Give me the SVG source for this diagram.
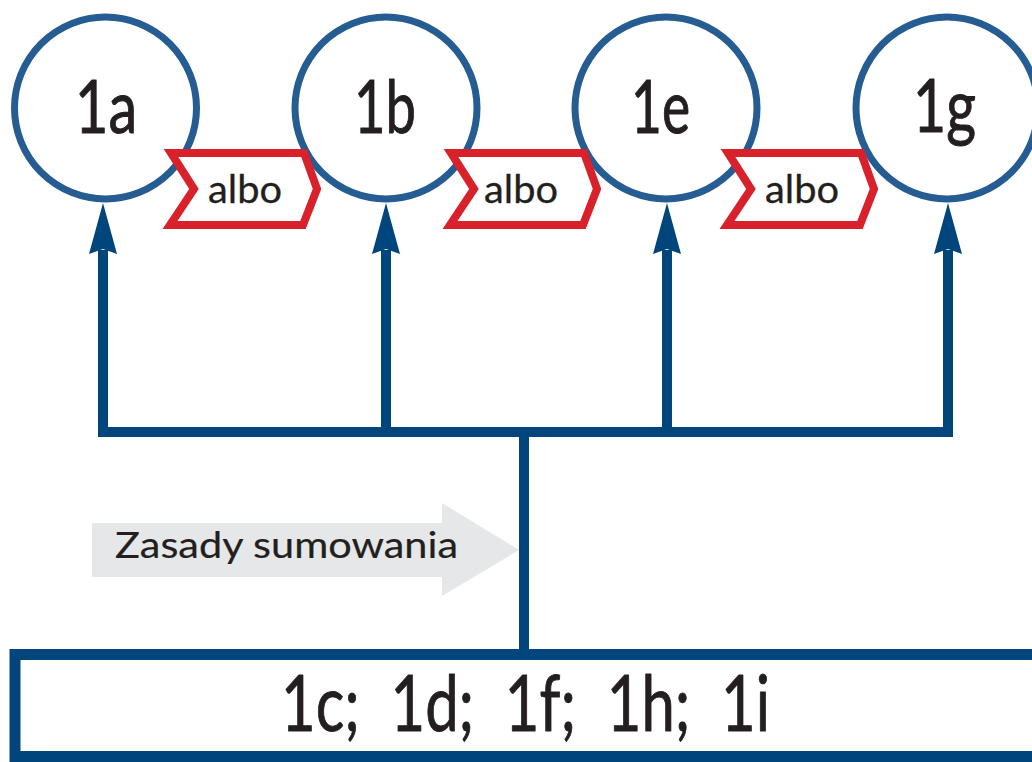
<svg xmlns="http://www.w3.org/2000/svg" xmlns:xlink="http://www.w3.org/1999/xlink" width="1032" height="762" viewBox="0 0 1032 762">
  <style>
    .circle { fill: #ffffff; stroke: #255c92; stroke-width: 7; }
    .label { font-family: Lato, "Liberation Sans", sans-serif; fill: #231f20; text-anchor: middle; stroke: #231f20; stroke-linejoin: round; }
    .big { font-size: 74px; stroke-width: 1; }
    .albo { font-size: 38px; stroke-width: 0.3; }
    .hint-text { font-size: 36px; stroke-width: 0.2; }
    .sum-text { font-size: 78px; stroke-width: 0.9; }
    .chev { fill: #ffffff; stroke: #d9212b; stroke-width: 8; stroke-linejoin: miter; }
    .wire { fill: none; stroke: #01457d; stroke-width: 10; stroke-linejoin: miter; stroke-linecap: butt; }
    .head { fill: #01457d; }
  </style>
  <defs>
    <!-- upward arrowhead, tip at origin -->
    <path id="arrowUp" d="M0 0 L14 51 L0 46 L-14 51 Z"/>
    <!-- "albo" ribbon outline, origin at its outer top-left corner -->
    <path id="ribbon" d="M4 4 H137 L150 40 L136 76 H3 L27 40 Z"/>
  </defs>

  <rect width="1032" height="762" fill="#ffffff"/>

  <!-- hint arrow -->
  <g id="hint">
    <path d="M92 523 H442 V503 L519 550 L442 596 V577 H92 Z" fill="#e6e7e8"/>
    <text class="label hint-text" x="286.5" y="558" textLength="343" lengthAdjust="spacingAndGlyphs">Zasady sumowania</text>
  </g>

  <!-- connectors -->
  <g id="connectors">
    <path class="wire" d="M103 250 V432 H948 V250"/>
    <path class="wire" d="M386 250 V432"/>
    <path class="wire" d="M667 250 V432"/>
    <path class="wire" d="M524 432 V650"/>
    <use xlink:href="#arrowUp" class="head" x="103" y="203"/>
    <use xlink:href="#arrowUp" class="head" x="386" y="203"/>
    <use xlink:href="#arrowUp" class="head" x="667" y="203"/>
    <use xlink:href="#arrowUp" class="head" x="948" y="203"/>
  </g>

  <!-- nodes -->
  <g id="node-1a">
    <circle class="circle" cx="105.5" cy="108" r="91"/>
    <text class="label big" x="106" y="133" textLength="62" lengthAdjust="spacingAndGlyphs">1a</text>
  </g>
  <g id="node-1b">
    <circle class="circle" cx="386" cy="108" r="91"/>
    <text class="label big" x="385" y="133" textLength="62" lengthAdjust="spacingAndGlyphs">1b</text>
  </g>
  <g id="node-1e">
    <circle class="circle" cx="666" cy="108" r="91"/>
    <text class="label big" x="660.5" y="133" textLength="59" lengthAdjust="spacingAndGlyphs">1e</text>
  </g>
  <g id="node-1g">
    <circle class="circle" cx="947" cy="108" r="91"/>
    <text class="label big" x="944.5" y="132" textLength="63" lengthAdjust="spacingAndGlyphs">1g</text>
  </g>

  <!-- "albo" ribbons between the circles -->
  <g id="or-1">
    <use xlink:href="#ribbon" class="chev" x="167" y="149"/>
    <text class="label albo" x="245" y="203" textLength="74" lengthAdjust="spacingAndGlyphs">albo</text>
  </g>
  <g id="or-2">
    <use xlink:href="#ribbon" class="chev" x="447" y="149"/>
    <text class="label albo" x="521" y="203" textLength="74" lengthAdjust="spacingAndGlyphs">albo</text>
  </g>
  <g id="or-3">
    <use xlink:href="#ribbon" class="chev" x="724" y="149"/>
    <text class="label albo" x="802" y="203" textLength="74" lengthAdjust="spacingAndGlyphs">albo</text>
  </g>

  <!-- summed items box -->
  <g id="node-sum">
    <rect x="15" y="654.5" width="1040" height="102" fill="#ffffff" stroke="#01457d" stroke-width="11"/>
    <text class="label sum-text" x="525.5" y="731" xml:space="preserve" textLength="489" lengthAdjust="spacingAndGlyphs">1c;  1d;  1f;  1h;  1i</text>
  </g>
</svg>
